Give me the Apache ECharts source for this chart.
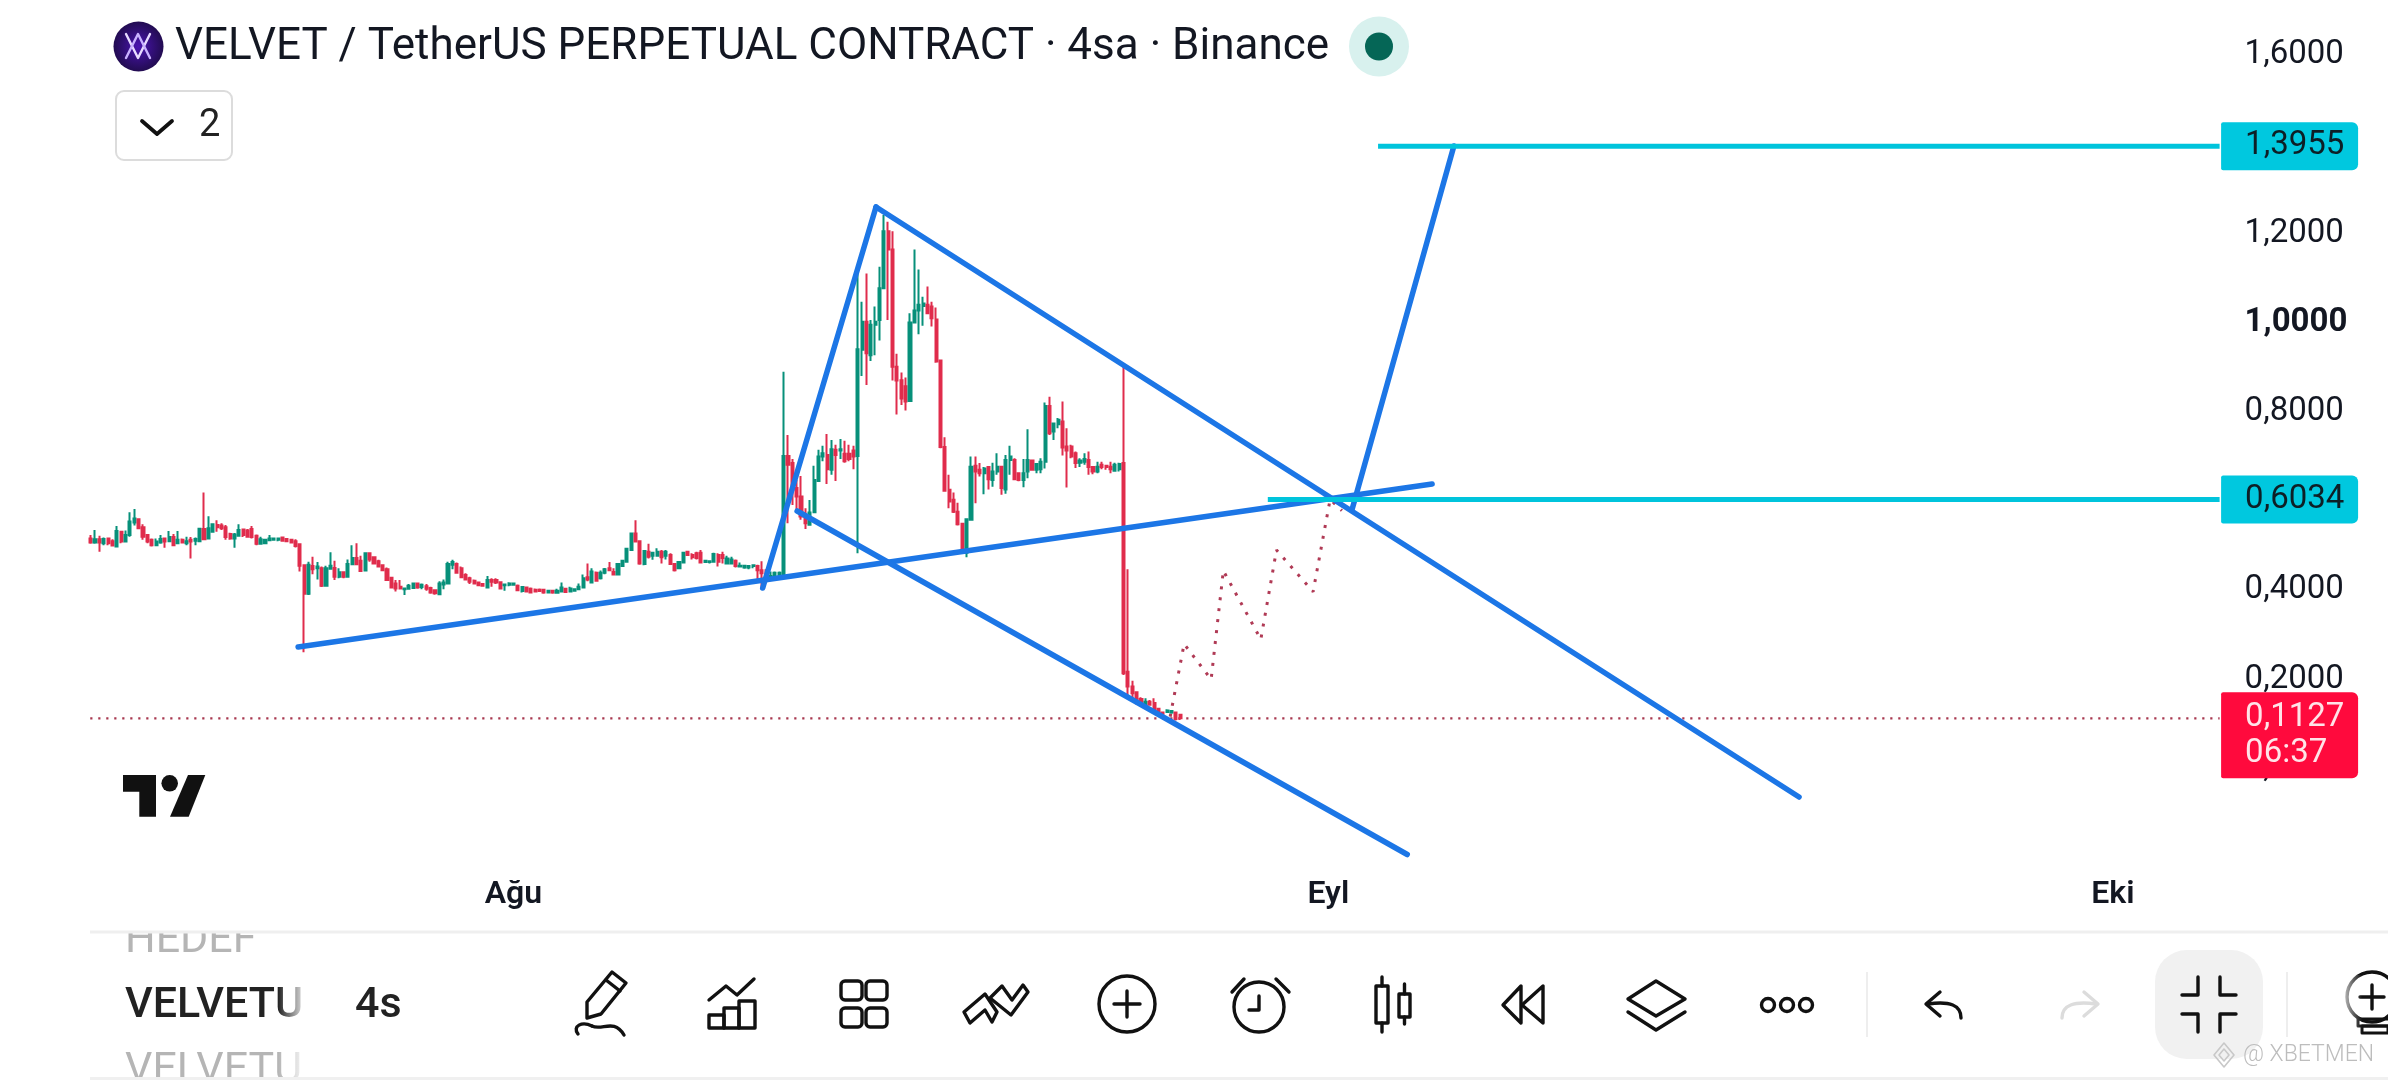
<!DOCTYPE html>
<html><head><meta charset="utf-8">
<style>html,body{margin:0;padding:0;background:#fff}#c{width:2388px;height:1080px}</style>
<script src="https://cdn.jsdelivr.net/npm/echarts@6/dist/echarts.min.js"></script>
</head><body><div id="c"></div>
<script>
// ---------- data ----------
const barCount = 489;
const monthLabels = {97:'Ağu', 284:'Eyl', 464:'Eki'};
// [open, close, low, high] per 4h bar
const ohlc = [
[.516,.507,.504,.524],[.507,.514,.504,.535],[.514,.507,.486,.522],[.505,.515,.501,.518],[.516,.505,.501,.518],
[.510,.500,.498,.514],[.498,.533,.496,.544],[.531,.509,.505,.533],[.509,.524,.507,.534],[.524,.554,.520,.575],
[.552,.561,.545,.582],[.559,.539,.537,.561],[.541,.520,.513,.548],[.524,.509,.505,.524],[.513,.501,.498,.516],
[.501,.509,.499,.516],[.507,.515,.504,.524],[.516,.509,.495,.518],[.510,.519,.508,.533],[.519,.501,.499,.526],
[.505,.513,.504,.533],[.513,.507,.505,.516],[.505,.510,.501,.520],[.513,.509,.471,.519],[.511,.515,.501,.518],
[.510,.538,.508,.539],[.537,.514,.513,.619],[.516,.539,.515,.566],[.531,.548,.529,.550],[.546,.541,.531,.557],
[.545,.539,.535,.550],[.541,.519,.513,.546],[.526,.516,.513,.529],[.516,.525,.495,.528],[.522,.535,.520,.548],
[.536,.524,.519,.538],[.534,.520,.519,.537],[.537,.519,.516,.544],[.522,.504,.501,.525],[.504,.514,.503,.520],
[.505,.513,.504,.515],[.512,.516,.510,.524],[.513,.516,.511,.516],[.513,.516,.510,.516],[.518,.511,.509,.520],
[.515,.510,.508,.516],[.513,.507,.505,.515],[.510,.499,.496,.514],[.503,.455,.442,.505],[.456,.392,.261,.458],
[.392,.457,.389,.464],[.454,.447,.436,.475],[.449,.453,.424,.463],[.449,.410,.407,.453],[.410,.449,.409,.455],
[.448,.455,.447,.485],[.450,.430,.423,.466],[.430,.440,.427,.449],[.440,.430,.427,.442],[.430,.459,.428,.469],
[.458,.472,.457,.501],[.472,.458,.457,.505],[.466,.443,.442,.477],[.444,.483,.443,.484],[.483,.469,.464,.485],
[.474,.460,.459,.475],[.465,.453,.451,.468],[.456,.445,.444,.458],[.447,.423,.421,.451],[.428,.406,.404,.430],
[.415,.404,.397,.423],[.408,.404,.403,.423],[.402,.404,.389,.404],[.403,.410,.401,.414],[.405,.415,.403,.417],
[.415,.406,.403,.417],[.407,.412,.402,.415],[.409,.403,.399,.414],[.405,.395,.392,.408],[.400,.393,.390,.402],
[.391,.415,.389,.420],[.413,.417,.402,.424],[.415,.459,.414,.464],[.457,.463,.447,.468],[.459,.439,.438,.462],
[.449,.429,.427,.453],[.434,.424,.423,.438],[.427,.419,.414,.430],[.421,.415,.413,.424],[.417,.411,.409,.419],
[.414,.410,.408,.415],[.406,.423,.405,.432],[.423,.419,.408,.427],[.423,.417,.414,.427],[.418,.404,.403,.419],
[.411,.413,.399,.415],[.412,.415,.409,.418],[.412,.415,.410,.415],[.410,.400,.398,.413],[.398,.407,.395,.408],
[.406,.397,.395,.408],[.403,.395,.393,.406],[.401,.397,.395,.404],[.401,.398,.397,.404],[.401,.395,.392,.403],
[.395,.399,.393,.401],[.399,.395,.392,.401],[.394,.399,.392,.403],[.397,.406,.396,.417],[.403,.396,.394,.404],
[.397,.404,.395,.408],[.399,.402,.397,.404],[.402,.408,.400,.415],[.406,.427,.405,.435],[.429,.424,.420,.460],
[.417,.442,.415,.449],[.439,.421,.419,.442],[.427,.439,.424,.444],[.439,.447,.436,.450],[.449,.445,.444,.463],
[.441,.435,.434,.449],[.435,.459,.434,.460],[.454,.466,.453,.468],[.464,.493,.463,.495],[.490,.527,.489,.529],
[.527,.509,.507,.557],[.510,.460,.457,.511],[.459,.488,.456,.490],[.486,.475,.471,.504],[.477,.484,.468,.486],
[.477,.486,.475,.494],[.486,.474,.460,.490],[.477,.486,.469,.490],[.479,.459,.457,.483],[.459,.445,.442,.460],
[.449,.463,.448,.465],[.462,.484,.460,.486],[.486,.479,.477,.488],[.479,.474,.469,.483],[.483,.472,.469,.486],
[.484,.462,.460,.490],[.463,.466,.462,.468],[.463,.465,.460,.466],[.464,.481,.463,.484],[.479,.464,.453,.483],
[.479,.472,.460,.486],[.460,.471,.459,.477],[.460,.469,.458,.475],[.466,.454,.451,.469],[.453,.455,.451,.462],
[.451,.455,.448,.457],[.451,.454,.447,.456],[.454,.456,.449,.457],[.454,.445,.423,.457],[.445,.438,.404,.465],
[.445,.427,.423,.447],[.423,.432,.421,.442],[.432,.439,.427,.442],[.433,.439,.429,.442],[.432,.701,.431,.890],
[.701,.681,.550,.748],[.685,.625,.591,.694],[.629,.610,.580,.647],[.610,.565,.558,.656],[.569,.550,.537,.584],
[.547,.574,.545,.602],[.575,.647,.573,.679],[.645,.700,.644,.715],[.700,.707,.689,.724],[.703,.671,.638,.750],
[.670,.716,.659,.737],[.715,.703,.645,.726],[.713,.716,.694,.739],[.706,.689,.686,.735],[.706,.694,.689,.726],
[.713,.700,.671,.724],[.701,.940,.483,1.118],[.939,1.002,.880,1.047],[1.002,.931,.860,1.110],[.927,.995,.914,1.006],
[.995,1.002,.927,1.036],[1.006,1.077,.960,1.125],[1.077,1.205,1.075,1.241],[1.205,1.164,1.006,1.226],[1.164,.901,.870,1.205],
[.901,.870,.794,.930],[.871,.830,.815,.888],[.857,.823,.803,.877],[.824,1.000,.823,1.021],[1.000,1.027,.998,1.164],
[1.027,1.040,.974,1.119],[1.037,1.043,.993,1.058],[1.040,1.021,1.019,1.081],[1.036,1.010,.991,1.047],[1.007,.913,.910,1.034],
[.915,.721,.718,.916],[.721,.623,.621,.743],[.625,.599,.584,.659],[.603,.576,.573,.619],[.576,.548,.545,.596],
[.549,.487,.484,.550],[.484,.559,.474,.561],[.558,.677,.556,.700],[.679,.666,.595,.700],[.670,.662,.655,.685],
[.662,.673,.615,.676],[.676,.649,.626,.677],[.647,.666,.632,.686],[.666,.677,.659,.707],[.677,.629,.614,.679],
[.626,.692,.616,.703],[.692,.700,.659,.724],[.692,.649,.647,.696],[.662,.647,.644,.662],[.647,.662,.631,.694],
[.666,.692,.651,.761],[.691,.670,.668,.692],[.670,.683,.662,.685],[.671,.688,.662,.696],[.688,.813,.673,.821],
[.813,.752,.748,.834],[.756,.774,.737,.776],[.772,.782,.763,.786],[.778,.720,.702,.823],[.722,.713,.630,.763],
[.722,.700,.696,.726],[.707,.685,.674,.711],[.686,.691,.676,.696],[.688,.694,.681,.707],[.692,.676,.659,.711],
[.676,.666,.660,.677],[.666,.677,.662,.688],[.681,.676,.671,.688],[.679,.676,.670,.681],[.677,.671,.662,.688],
[.668,.681,.666,.686],[.671,.683,.666,.686],[.685,.214,.210,.909],[.217,.184,.161,.447],[.184,.169,.150,.197],
[.171,.150,.143,.173],[.156,.143,.139,.160],[.143,.150,.135,.158],[.150,.143,.141,.154],[.147,.132,.128,.158],
[.134,.126,.123,.135],[.126,.123,.118,.128],[.127,.130,.126,.133],[.126,.129,.123,.130],[.126,.111,.108,.128],
[.121,.1127,.109,.122]
];
// drawings, as [bar position, price]
const supportLine  = [[48.1,.2726],[308.3,.6381]];
const impulseLine  = [[154.7,.4049],[180.7,1.2592]];
const upperChannel = [[180.7,1.2592],[392.5,-.0637]];
const lowerChannel = [[162.6,.5776],[302.6,-.1926]];
const breakoutLine = [[289.9,.5798],[313.3,1.396]];
const projection   = [[248.2,.1165],[251.4,.2794],[257.6,.2002],[260.4,.4438],[269.0,.2898],[272.6,.4902],[281.0,.3967],[284.9,.6037],[287.6,.5783]];
const targetHigh = 1.3955, targetLow = 0.6034, lastPrice = 0.1127;
const targetHighFrom = 295.9, targetLowFrom = 270.6;
const countdown = '06:37';
const titleText = 'VELVET / TetherUS PERPETUAL CONTRACT · 4sa · Binance';

// ---------- styles ----------
const comma = v => v.toFixed(4).replace('.', ',');
const categories = Array.from({length: barCount}, (_, i) => String(i));
const GREEN='#07907a', RED='#e02c4c', BLUE='#1c76e6', CYAN='#00c4dc', TAGCYAN='#00c8df', TAGRED='#ff0a3d', INK='#111';
const F='Roboto';

const blue = (d, z) => ({type:'line', xAxisIndex:1, yAxisIndex:0, data:d, symbol:'none', silent:true, clip:false, z:z||5,
  lineStyle:{color:BLUE, width:5.5, cap:'round'}});
const tagLabel = (txt) => ({show:true, formatter:txt, distance:1.5, color:'#0d1f26', fontFamily:F, fontSize:33,
  backgroundColor:TAGCYAN, borderRadius:[2,6,6,2], width:113, height:36, lineHeight:36, align:'left', padding:[3,0,9,24]});
const cyan = (from, v) => ({type:'line', xAxisIndex:1, yAxisIndex:0, data:[[from,v],[barCount,v]], symbol:'none', silent:true, clip:false, z:6,
  lineStyle:{color:CYAN, width:5}, endLabel:tagLabel(comma(v))});

// ---------- chrome helpers ----------
const txt=(x,y,text,size,fill,w,extra)=>Object.assign({type:'text',silent:true,style:{x,y,text,fontFamily:F,fontSize:size,fontWeight:w||400,fill,verticalAlign:'middle',align:'left'}},extra||{});
const sk=(c,w)=>({fill:'none',stroke:c||INK,lineWidth:w||3.4,lineCap:'round',lineJoin:'round'});
const pl=(pts,c,w)=>({type:'polyline',silent:true,shape:{points:pts},style:sk(c,w)});
const pg=(pts,c,w)=>({type:'polygon',silent:true,shape:{points:pts},style:sk(c,w)});
const rc=(x,y,w,h,r,c,lw)=>({type:'rect',silent:true,shape:{x,y,width:w,height:h,r:r||0},style:sk(c,lw)});
const ci=(cx,cy,r,c,lw)=>({type:'circle',silent:true,shape:{cx,cy,r},style:sk(c,lw)});
const fr=(x,y,w,h,fill,r)=>({type:'rect',silent:true,shape:{x,y,width:w,height:h,r:r||0},style:{fill}});
const fc=(cx,cy,r,fill)=>({type:'circle',silent:true,shape:{cx,cy,r},style:{fill}});
const bz=(x1,y1,c1x,c1y,c2x,c2y,x2,y2,c,w)=>({type:'bezierCurve',silent:true,shape:{x1,y1,cpx1:c1x,cpy1:c1y,cpx2:c2x,cpy2:c2y,x2,y2},style:sk(c,w)});
const fade=(a,b)=>({type:'linear',x:0,y:0,x2:1,y2:0,colorStops:[{offset:0,color:a},{offset:1,color:b}]});

const chrome=[
 // header
 {type:'circle',silent:true,shape:{cx:138.5,cy:46.5,r:25},style:{fill:{type:'radial',x:.5,y:.5,r:.6,colorStops:[{offset:0,color:'#4a14b0'},{offset:1,color:'#1a0a3e'}]}}},
 pl([[126,34],[138,58],[150,34]],'#e8dcff',2.4), pl([[126,58],[138,34],[150,58]],'#c9b2ff',2.4),
 txt(175,48,titleText,44,'#131722'),
 fc(1379,46.5,30,'#d8f1ee'), fc(1379,46.5,14,'#056656'),
 rc(116,91,116,69,8,'#dcdcdc',2),
 pl([[142,121],[157,134],[172,121]],INK,3.8),
 txt(199,126,'2',38,'#222'),
 // TV logo
 {type:'polygon',silent:true,shape:{points:[[123,775],[156,775],[156,816.7],[139.3,816.7],[139.3,791.7],[123,791.7]]},style:{fill:INK}},
 fc(169.7,783.3,8.3,INK),
 {type:'polygon',silent:true,shape:{points:[[188,775],[205.3,775],[188.7,816.7],[170,816.7]]},style:{fill:INK}},
 // toolbar text
 txt(125,941,'HEDEF',43,'#b5b5b5'),
 txt(125,1071,'VELVETU',43,'#b5b5b5'),
 txt(125,1006,'VELVETU',43,'#222',500),
 fr(278,985,30,42,fade('rgba(255,255,255,0)','#fff')),
 fr(278,1050,30,28,fade('rgba(255,255,255,0)','#fff')),
 fr(100,918,300,15,'#fff'),
 fr(90,1077,2298,3,'#f0f0f0'),
 fr(90,930.5,2298,3,'#efefef'),
 txt(355,1006,'4s',43,'#222',500),
 // pencil
 pg([[587,1018],[587,1002],[612,972],[626,983],[601,1014]]), pl([[606,980],[620,991]]),
 bz(578,1034,572,1026,582,1021,592,1026), bz(592,1026,602,1031,614,1018,624,1035),
 // indicators
 pl([[709,1000],[726,986],[737,995],[754,979]]), rc(709,1015,15,13), rc(724,1008,15,20), rc(739,1001,16,27),
 // grid
 rc(841,981,21,19,4), rc(866,981,21,19,4), rc(841,1008,21,19,4), rc(866,1008,21,19,4),
 // patterns
 pg([[964,1012],[985,994],[997,1012],[992,1022],[985,1010],[970,1023]]), pg([[990,998],[1002,986],[1012,1000],[1023,985],[1028,992],[1011,1015]]),
 // plus
 ci(1127,1004,28), pl([[1114,1004],[1140,1004]]), pl([[1127,991],[1127,1017]]),
 // alarm
 ci(1259,1007,25), pl([[1259,996],[1259,1010],[1249,1010]]), pl([[1232,992],[1244,979]]), pl([[1276,979],[1289,992]]),
 // candles
 rc(1376,986,12,37), pl([[1382,977],[1382,986]]), pl([[1382,1023],[1382,1032]]),
 rc(1399,994,11,23), pl([[1404.5,984],[1404.5,994]]), pl([[1404.5,1017],[1404.5,1024]]),
 // rewind
 pg([[1503,1005],[1521,986],[1521,1023]]), pg([[1522,1005],[1543,986],[1543,1023]]),
 // layers
 pg([[1656,981],[1685,999],[1656,1016],[1628,999]]), pl([[1628,1012],[1656,1030],[1685,1012]]),
 // more
 ci(1768,1005,6.5), ci(1787,1005,6.5), ci(1806,1005,6.5),
 fr(1866,972,2,65,'#eeeeee'),
 // undo/redo
 pl([[1940,992],[1926,1004],[1940,1016]]), bz(1928,1004,1950,1001,1961,1005,1961,1018),
 pl([[2084,992],[2098,1004],[2084,1016]],'#dcdcdc'), bz(2096,1004,2074,1001,2062,1005,2062,1018,'#dcdcdc'),
 // collapse
 fr(2155,950,108,109,'#f1f1f1',32),
 pl([[2198,977],[2198,995],[2182,995]]), pl([[2220,977],[2220,995],[2236,995]]),
 pl([[2182,1014],[2198,1014],[2198,1032]]), pl([[2236,1014],[2220,1014],[2220,1032]]),
 fr(2286,972,2,65,'#eeeeee'),
 // bulb
 ci(2372,997,25), pl([[2360,997],[2384,997]]), pl([[2372,985],[2372,1009]]), rc(2358,1019,34,7,0,INK,3), rc(2362,1026,26,7,0,INK,3),
 fr(2342,975,20,60,fade('rgba(255,255,255,.8)','rgba(255,255,255,0)')),
 // watermark
 pg([[2224,1043],[2234,1055],[2224,1067],[2214,1055]],'#c8c8c8',1.6), pg([[2224,1049],[2229,1055],[2224,1061],[2219,1055]],'#c8c8c8',1.6),
 txt(2243,1055,'@ XBETMEN',23,'#bdbdbd',300)
];
chrome.forEach(e=>{e.z=100;});

const chart = echarts.init(document.getElementById('c'), null, {renderer:'canvas'});
chart.setOption({
  animation:false,
  backgroundColor:'#fff',
  grid:{left:88.5, width:2131.1, top:0, height:857.8, containLabel:false},
  xAxis:[
    {type:'category', data:categories, boundaryGap:true,
     axisLine:{show:false}, axisTick:{show:false}, splitLine:{show:false},
     axisLabel:{show:true, margin:21, interval:(i)=>!!monthLabels[i], formatter:(v,i)=>monthLabels[i]||'',
       fontFamily:F, fontSize:32, fontWeight:600, color:'#131722', hideOverlap:false}},
    {type:'value', min:0, max:barCount, show:false}
  ],
  yAxis:[{type:'value', position:'right', min:-0.2, max:1.7233, interval:0.2,
    axisLine:{show:false}, axisTick:{show:false}, splitLine:{show:false},
    axisLabel:{show:true, showMinLabel:false, showMaxLabel:false, margin:25, align:'left',
      fontFamily:F, fontSize:33, color:'#131722',
      formatter:v=>Math.abs(v-1)<1e-6?'{b|'+comma(v)+'}':comma(v),
      rich:{b:{fontFamily:F,fontSize:33,fontWeight:700,color:'#131722'}}}}],
  series:[
    {type:'candlestick', xAxisIndex:0, yAxisIndex:0, data:ohlc, barWidth:2.6, silent:true, z:3,
     itemStyle:{color:GREEN, color0:RED, borderColor:GREEN, borderColor0:RED, borderWidth:2}},
    {type:'line', xAxisIndex:1, yAxisIndex:0, data:[[0.4,lastPrice],[barCount,lastPrice]], symbol:'none', silent:true, z:2,
     lineStyle:{color:'#a8384f', width:2.2, type:[2.2,5.8]},
     endLabel:{show:true, formatter:comma(lastPrice)+'\n'+countdown, distance:1.5, offset:[0,17], color:'#ffe3e8', fontFamily:F, fontSize:33,
       backgroundColor:TAGRED, borderRadius:[2,6,6,2], width:113, lineHeight:36, align:'left', padding:[7,0,7,24]}},
    {type:'line', xAxisIndex:1, yAxisIndex:0, data:projection, symbol:'none', silent:true, z:2,
     lineStyle:{color:'#b03a55', width:3, type:[3,8]}},
    blue(supportLine), blue(impulseLine), blue(upperChannel), blue(lowerChannel), blue(breakoutLine),
    cyan(targetHighFrom,targetHigh), cyan(targetLowFrom,targetLow)
  ],
  graphic:{elements:chrome}
});
</script></body></html>
